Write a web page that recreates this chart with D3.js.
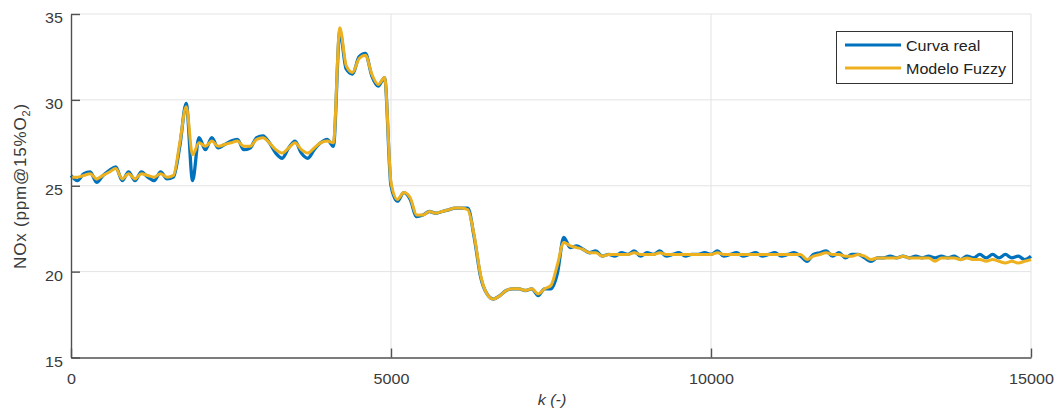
<!DOCTYPE html>
<html>
<head>
<meta charset="utf-8">
<script src="https://cdn.jsdelivr.net/npm/d3@7"></script>
<style>
  body { margin: 0; background: #fff; }
  text { font-family: "Liberation Sans", Arial, sans-serif; fill: #333; }
</style>
</head>
<body>
<svg id="chart" width="1058" height="414"></svg>
<script>

// sample index k (every 100 samples)
var kIndex = d3.range(0, 15001, 100)

// measured NOx (blue)
var curvaReal = [
  25.6, 25.3, 25.7, 25.8, 25.2, 25.6, 25.9, 26.1, 25.3, 25.8,
  25.3, 25.8, 25.5, 25.3, 25.8, 25.4, 25.5, 27.3, 29.8, 25.3,
  27.8, 27.1, 27.8, 27.2, 27.4, 27.6, 27.7, 27.1, 27.2, 27.8,
  27.9, 27.5, 26.9, 26.6, 27.2, 27.6, 26.9, 26.6, 27.1, 27.5,
  27.7, 27.3, 34.0, 31.8, 31.5, 32.5, 32.7, 31.4, 30.8, 31.3,
  25.0, 24.1, 24.6, 24.2, 23.2, 23.3, 23.5, 23.4, 23.5, 23.6,
  23.7, 23.7, 23.7, 22.0, 19.7, 18.7, 18.4, 18.6, 18.9, 19.0,
  19.0, 18.9, 19.0, 18.6, 19.0, 19.0, 19.9, 22.0, 21.4, 21.5,
  21.3, 21.1, 21.2, 20.9, 21.0, 20.9, 21.1, 21.0, 21.2, 20.9,
  21.1, 21.0, 21.2, 20.9, 21.0, 21.1, 20.9, 21.0, 21.0, 21.1,
  21.0, 21.2, 20.9, 21.0, 21.1, 20.9, 21.0, 21.1, 20.9, 21.0,
  21.1, 20.9, 21.0, 21.1, 20.9, 20.6, 21.0, 21.1, 21.2, 20.9,
  21.1, 20.8, 21.0, 21.0, 20.8, 20.6, 20.8, 20.8, 20.9, 20.8,
  20.9, 20.8, 20.9, 20.8, 20.9, 20.8, 20.9, 20.8, 20.9, 20.7,
  20.9, 20.8, 21.0, 20.8, 21.0, 20.8, 21.0, 20.8, 20.9, 20.7,
  20.9
]

// fuzzy model output (yellow)
var modeloFuzzy = [
  25.5, 25.5, 25.6, 25.7, 25.4, 25.6, 25.8, 26.0, 25.4, 25.7,
  25.4, 25.7, 25.6, 25.5, 25.7, 25.5, 25.6, 27.5, 29.6, 26.8,
  27.5, 27.3, 27.6, 27.3, 27.4, 27.5, 27.6, 27.3, 27.3, 27.7,
  27.8, 27.5, 27.1, 26.9, 27.2, 27.5, 27.1, 26.9, 27.2, 27.5,
  27.6, 27.5, 34.2, 32.0, 31.6, 32.4, 32.6, 31.5, 30.9, 31.3,
  25.2, 24.2, 24.6, 24.3, 23.3, 23.3, 23.5, 23.4, 23.5, 23.6,
  23.7, 23.7, 23.6, 22.1, 19.8, 18.7, 18.4, 18.6, 18.9, 19.0,
  19.0, 18.9, 19.0, 18.7, 19.0, 19.2, 20.4, 21.7, 21.5, 21.4,
  21.3, 21.1, 21.1, 20.9, 21.0, 21.0, 21.0, 21.0, 21.1, 21.0,
  21.0, 21.0, 21.1, 21.0, 21.0, 21.0, 21.0, 21.0, 21.0, 21.0,
  21.0, 21.1, 21.0, 21.0, 21.0, 21.0, 21.0, 21.0, 21.0, 21.0,
  21.0, 21.0, 21.0, 21.0, 21.0, 20.7, 20.9, 21.0, 21.1, 21.0,
  21.0, 20.9, 20.9, 21.0, 20.9, 20.7, 20.8, 20.8, 20.8, 20.8,
  20.9, 20.8, 20.8, 20.8, 20.8, 20.6, 20.8, 20.8, 20.8, 20.7,
  20.8, 20.7, 20.7, 20.6, 20.7, 20.6, 20.5, 20.6, 20.5, 20.6,
  20.7
]

var xTicks = [0, 5000, 10000, 15000]
var yTicks = [15, 20, 25, 30, 35]
var keys = ["Curva real", "Modelo Fuzzy"]
var color = d3.scaleOrdinal().domain(keys).range(["#0072BD", "#EDB120"])

var svg = d3.select("#chart")
var stretch = "scale(1.15,1)"   // the source figure is a bit wider than tall

var x = d3.scaleLinear().domain([0, 15000]).range([71, 1031])
var y = d3.scaleLinear().domain([15, 35]).range([357.5, 14])

// grid
svg.append("g").selectAll("line")
  .data(yTicks.slice(1))
  .enter().append("line")
    .attr("x1", 71).attr("x2", 1031)
    .attr("y1", function(d){ return y(d) }).attr("y2", function(d){ return y(d) })
    .style("stroke", "#e3e3e3").style("stroke-width", 1)
svg.append("g").selectAll("line")
  .data(xTicks.slice(1))
  .enter().append("line")
    .attr("x1", function(d){ return x(d) }).attr("x2", function(d){ return x(d) })
    .attr("y1", 14).attr("y2", 357.5)
    .style("stroke", "#e3e3e3").style("stroke-width", 1)

// curves
var line = d3.line()
  .curve(d3.curveMonotoneX)
  .x(function(d){ return x(d[0]) })
  .y(function(d){ return y(d[1]) })

svg.append("path")
  .datum(d3.zip(kIndex, curvaReal))
  .attr("d", line)
  .style("fill", "none").style("stroke", color("Curva real"))
  .style("stroke-width", 3.3).style("stroke-linejoin", "round")

svg.append("path")
  .datum(d3.zip(kIndex, modeloFuzzy))
  .attr("d", line)
  .style("fill", "none").style("stroke", color("Modelo Fuzzy"))
  .style("stroke-width", 3).style("stroke-linejoin", "round")

// axes
var xAxis = svg.append("g")
  .attr("transform", "translate(0,357.5)")
  .call(d3.axisBottom(x).tickValues(xTicks).tickFormat(d3.format("d"))
    .tickSizeInner(-9).tickSizeOuter(0).tickPadding(16.5))
var yAxis = svg.append("g")
  .attr("transform", "translate(71,0)")
  .call(d3.axisLeft(y).tickValues(yTicks)
    .tickSizeInner(-9).tickSizeOuter(0).tickPadding(8))

svg.selectAll(".domain, .tick line").style("stroke", "#505050").style("stroke-width", 1.4)
xAxis.selectAll("text").style("font-size", "14px").style("fill", "#3a3a3a")
  .attr("transform", stretch)
yAxis.selectAll("text").style("font-size", "14px").style("fill", "#3a3a3a")
  .attr("x", -8 / 1.15).attr("dy", "8.5px").attr("transform", stretch)

// axis titles
svg.append("text")
  .attr("transform", "translate(552,405) " + stretch)
  .attr("text-anchor", "middle")
  .style("font-size", "14px").style("font-style", "italic").style("fill", "#3a3a3a")
  .text("k (-)")

var yLabel = svg.append("text")
  .attr("transform", "translate(26,186) rotate(-90)")
  .attr("text-anchor", "middle")
  .style("font-size", "17px").style("letter-spacing", "0.8px").style("fill", "#3a3a3a")
yLabel.append("tspan").text("NOx (ppm@15%O")
yLabel.append("tspan").attr("dy", 4).style("font-size", "11px").text("2")
yLabel.append("tspan").attr("dy", -4).text(")")

// legend
var legend = svg.append("g")
legend.append("rect")
  .attr("x", 836.5).attr("y", 31.5).attr("width", 176).attr("height", 52)
  .style("fill", "#fff").style("stroke", "#333").style("stroke-width", 1)
legend.selectAll("mylines")
  .data(keys)
  .enter().append("line")
    .attr("x1", 845).attr("x2", 901)
    .attr("y1", function(d,i){ return 45 + i*23 }).attr("y2", function(d,i){ return 45 + i*23 })
    .style("stroke", function(d){ return color(d) }).style("stroke-width", 3)
legend.selectAll("mylabels")
  .data(keys)
  .enter().append("text")
    .attr("transform", function(d,i){ return "translate(906," + (50.5 + i*23) + ") " + stretch })
    .style("font-size", "14px").style("fill", "#222")
    .text(function(d){ return d })

</script>
</body>
</html>
